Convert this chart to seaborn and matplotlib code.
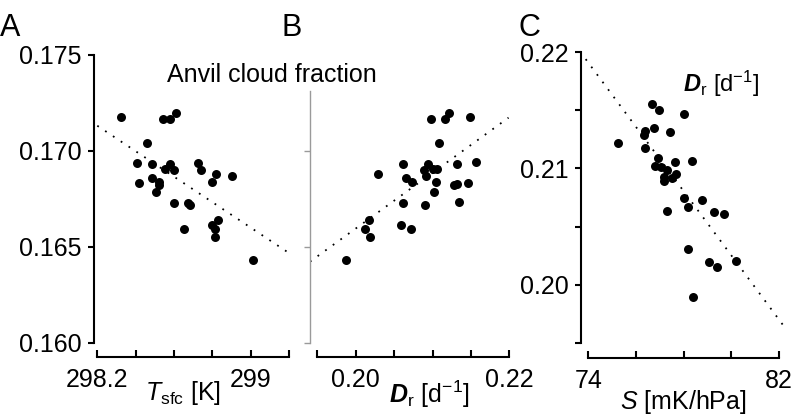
import matplotlib
matplotlib.use("Agg")
import matplotlib.pyplot as plt
import seaborn as sns

# panel A: surface temperature vs anvil cloud fraction
tsfc = [298.322, 298.544, 298.579, 298.610, 298.457, 298.408, 298.483, 298.579,
        298.553, 298.599, 298.723, 298.739, 298.817, 298.799, 298.900, 298.485,
        298.419, 298.520, 298.523, 298.506, 298.601, 298.671, 298.683, 298.650,
        298.797, 298.827, 298.815, 298.813, 299.013]
anvil_a = [0.17174, 0.17165, 0.17165, 0.17195, 0.17039, 0.16938, 0.16929, 0.16932,
           0.16903, 0.16899, 0.16938, 0.16899, 0.16877, 0.16839, 0.16868, 0.16856,
           0.16830, 0.16837, 0.16820, 0.16785, 0.16729, 0.16729, 0.16716, 0.16594,
           0.16611, 0.16639, 0.16591, 0.16552, 0.16429]

# panel B: radiative subsidence rate vs anvil cloud fraction
dr_b = [0.19870, 0.20286, 0.20121, 0.20177, 0.20186, 0.20594, 0.20720, 0.20612,
        0.20620, 0.20655, 0.20737, 0.20902, 0.20945, 0.20885, 0.20919, 0.21003,
        0.21055, 0.21046, 0.21016, 0.20980, 0.21089, 0.21163, 0.21211, 0.21492,
        0.21315, 0.21276, 0.21323, 0.21466, 0.21349, 0.21563]
anvil_b = [0.16431, 0.16877, 0.16594, 0.16639, 0.16552, 0.16611, 0.16591, 0.16729,
           0.16932, 0.16858, 0.16837, 0.16716, 0.16932, 0.16899, 0.16868, 0.16903,
           0.16903, 0.16837, 0.16785, 0.17167, 0.17040, 0.17167, 0.17195, 0.17174,
           0.16929, 0.16820, 0.16825, 0.16833, 0.16731, 0.16940]

# panel C: static stability vs radiative subsidence rate
stab = [75.235, 76.664, 76.958, 78.008, 76.748, 76.370, 76.328, 77.433, 76.370,
        76.916, 76.803, 77.067, 77.307, 77.630, 78.357, 77.181, 77.193, 77.504,
        77.697, 78.008, 78.176, 78.765, 77.294, 79.294, 79.714, 78.176, 79.071,
        79.395, 80.206, 78.412]
dr_c = [0.21218, 0.21558, 0.21499, 0.21465, 0.21351, 0.21320, 0.21289, 0.21317,
        0.21176, 0.21091, 0.21025, 0.21014, 0.20983, 0.21054, 0.21062, 0.20926,
        0.20892, 0.20915, 0.20952, 0.20745, 0.20669, 0.20731, 0.20637, 0.20626,
        0.20607, 0.20309, 0.20195, 0.20148, 0.20207, 0.19896]

# fitted lines (end points)
fit_a_x = [298.2, 299.2]
fit_a_y = [0.1713, 0.16466]
fit_b_x = [0.19405, 0.2199]
fit_b_y = [0.16422, 0.17172]
fit_c_x = [73.89, 82.3]
fit_c_y = [0.21941, 0.19619]

sns.set_theme(style="ticks")
plt.rcParams["font.family"] = ["Liberation Sans", "DejaVu Sans"]
plt.rcParams["mathtext.fontset"] = "custom"
plt.rcParams["mathtext.rm"] = "Liberation Sans"
plt.rcParams["mathtext.it"] = "Liberation Sans:italic"
plt.rcParams["mathtext.bf"] = "Liberation Sans:bold"
plt.rcParams["mathtext.bfit"] = "Liberation Sans:bold:italic"
for key in ("text.color", "axes.labelcolor", "axes.edgecolor", "xtick.color", "ytick.color"):
    plt.rcParams[key] = "black"

W, H = 793, 416
fig = plt.figure(figsize=(W / 100, H / 100), dpi=100)


def box(x0, x1, ytop, ybot):
    return [x0 / W, 1 - ybot / H, (x1 - x0) / W, (ybot - ytop) / H]


ax_a = fig.add_axes(box(94, 291, 54.7, 342.7))
ax_b = fig.add_axes(box(310, 513, 54.7, 342.7))
ax_c = fig.add_axes(box(581, 788, 52.3, 342.7))

dot = dict(color="black", s=42, linewidth=0, clip_on=False, legend=False)
line = dict(color="black", linewidth=1.3, linestyle=(0, (1, 4.2)), legend=False)

sns.lineplot(x=fit_a_x, y=fit_a_y, ax=ax_a, **line)
sns.scatterplot(x=tsfc, y=anvil_a, ax=ax_a, **dot)
sns.lineplot(x=fit_b_x, y=fit_b_y, ax=ax_b, **line)
sns.scatterplot(x=dr_b, y=anvil_b, ax=ax_b, **dot)
sns.lineplot(x=fit_c_x, y=fit_c_y, ax=ax_c, **line)
sns.scatterplot(x=stab, y=dr_c, ax=ax_c, **dot)

for ax in (ax_a, ax_b, ax_c):
    ax.spines[["top", "right"]].set_visible(False)
    ax.spines["bottom"].set_position(("outward", 10))
    ax.spines["bottom"].set_linewidth(1.5)
    ax.spines["left"].set_linewidth(1.5)
    ax.tick_params(axis="x", direction="in", length=5, width=1.5, pad=8, labelsize=18)
    ax.tick_params(axis="y", direction="out", length=4, width=1.5, pad=5, labelsize=18)
    ax.set_facecolor("none")

# A
ax_a.set_xlim(298.1828, 299.2089)
ax_a.set_ylim(0.160, 0.175)
ax_a.set_xticks([298.2, 298.4, 298.6, 298.8, 299.0, 299.2],
                ["298.2", "", "", "", "299", ""])
ax_a.set_yticks([0.160, 0.165, 0.170, 0.175], ["0.160", "0.165", "0.170", "0.175"])
ax_a.spines["left"].set_bounds(0.160, 0.175)
ax_a.spines["bottom"].set_bounds(298.2, 299.2)
ax_a.set_xlabel(r"$T_{\mathrm{sfc}}$ [K]", fontsize=18, va="top")
ax_a.xaxis.set_label_coords(0.45, -0.125)
ax_a.set_ylabel("")

# B
ax_b.set_xlim(0.19405, 0.22048)
ax_b.set_ylim(0.160, 0.175)
ax_b.set_xticks([0.195, 0.200, 0.205, 0.210, 0.215, 0.220],
                ["", "0.20", "", "", "", "0.22"])
ax_b.set_yticks([0.160, 0.165, 0.170], ["", "", ""])
ax_b.spines["left"].set_bounds(0.160, 0.1731)
ax_b.spines["left"].set_color("#9a9a9a")
ax_b.spines["left"].set_linewidth(1.0)
ax_b.tick_params(axis="y", color="#9a9a9a", width=1.0)
ax_b.spines["bottom"].set_bounds(0.195, 0.22)
ax_b.set_xlabel(r"$\mathbfit{D}_{\mathrm{r}}$ [d$^{-1}$]", fontsize=18, va="top")
ax_b.xaxis.set_label_coords(0.59, -0.125)
ax_b.set_ylabel("")

# C
ax_c.set_xlim(73.693, 82.39)
ax_c.set_ylim(0.195, 0.22)
ax_c.set_xticks([74, 76, 78, 80, 82], ["74", "", "", "", "82"])
ax_c.set_yticks([0.195, 0.200, 0.205, 0.210, 0.215, 0.220],
                ["", "0.20", "", "0.21", "", "0.22"])
ax_c.spines["left"].set_bounds(0.195, 0.22)
ax_c.spines["bottom"].set_bounds(74, 82)
ax_c.spines["bottom"].set_position(("outward", 11))
ax_c.set_xlabel(r"$S$ [mK/hPa]", fontsize=18, va="top")
ax_c.xaxis.set_label_coords(0.493, -0.155)
ax_c.set_ylabel("")
ax_c.text(0.86, 0.865, r"$\mathbfit{D}_{\mathrm{r}}$ [d$^{-1}$]", transform=ax_c.transAxes,
          ha="right", va="baseline", fontsize=17)

fig.text(272 / W, 1 - 82 / H, "Anvil cloud fraction", ha="center", va="baseline", fontsize=18)
for letter, x in (("A", 0), ("B", 282), ("C", 518)):
    fig.text(x / W, 1 - 36 / H, letter, ha="left", va="baseline", fontsize=22)

fig.savefig("out.png", dpi=100)
